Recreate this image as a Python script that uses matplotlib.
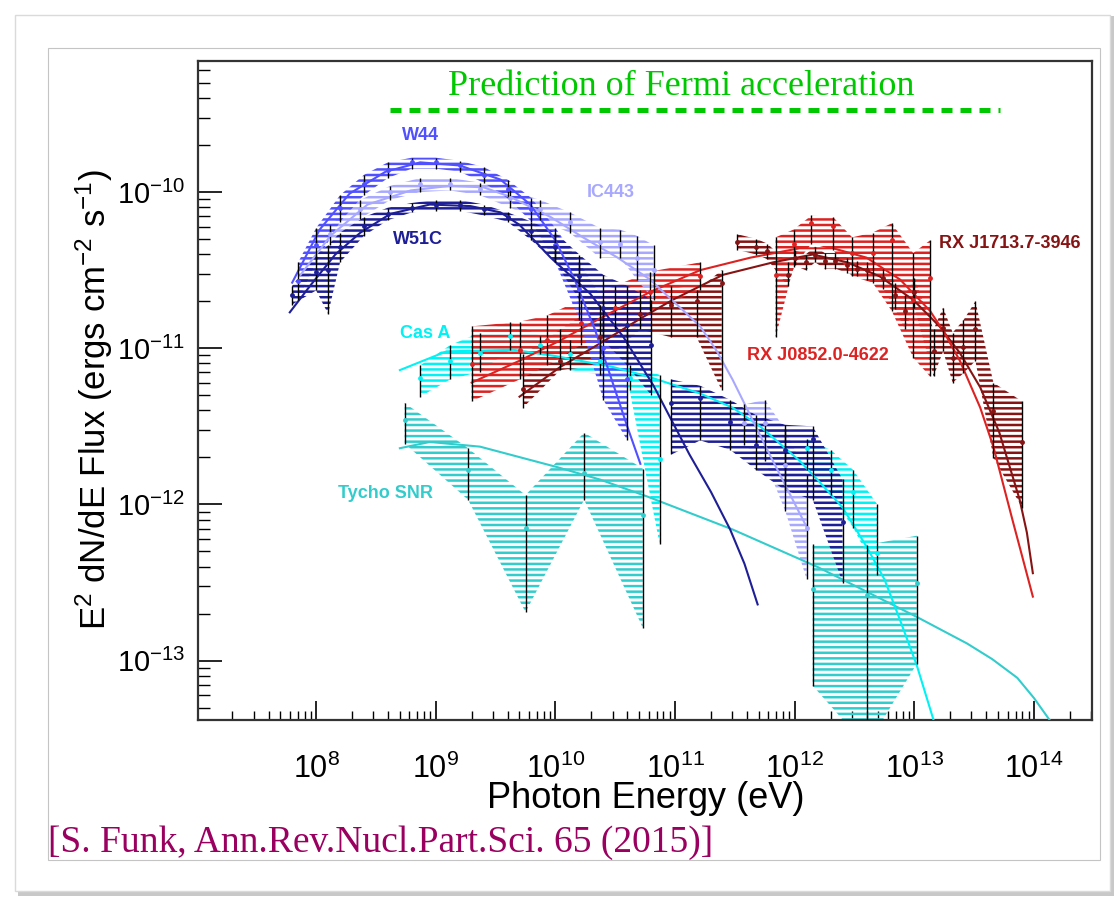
#Espectros gamma de remanentes de supernova (Funk 2015)
#Valores: log10 de la energia (eV) y log10 del flujo E^2 dN/dE

import numpy as np
import matplotlib
matplotlib.use("Agg")
import matplotlib.pyplot as plt
from matplotlib.patches import Rectangle
from matplotlib.ticker import LogLocator, NullFormatter

plt.rcParams['font.family'] = ['Liberation Sans', 'DejaVu Sans']
plt.rcParams['mathtext.fontset'] = 'custom'
plt.rcParams['mathtext.rm'] = 'Liberation Sans'
plt.rcParams['mathtext.it'] = 'Liberation Sans:italic'
plt.rcParams['mathtext.bf'] = 'Liberation Sans:bold'
plt.rcParams['hatch.linewidth'] = 1.8

# ---- W44 ----
w44_curva_logE = [7.80, 8.03, 8.28, 8.58, 8.87, 9.20, 9.54, 9.79, 10.00, 10.16, 10.33, 10.50, 10.60, 10.71]
w44_curva_logF = [-10.58, -10.24, -10.01, -9.87, -9.81, -9.83, -9.92, -10.08, -10.31, -10.56, -10.88, -11.27, -11.50, -11.74]
w44_logE = [7.85, 8.0, 8.2, 8.4, 8.6, 8.8, 9.0, 9.2, 9.4, 9.6, 9.8, 10.0, 10.2, 10.4, 10.6]
w44_logF = [-10.57, -10.34, -10.10, -9.95, -9.86, -9.81, -9.81, -9.83, -9.89, -9.98, -10.11, -10.34, -10.62, -11.00, -11.20]
w44_logF_max = [-10.45, -10.23, -10.02, -9.89, -9.81, -9.78, -9.78, -9.80, -9.84, -9.92, -10.04, -10.23, -10.45, -10.69, -10.88]
w44_logF_min = [-10.69, -10.45, -10.19, -10.02, -9.91, -9.85, -9.85, -9.87, -9.94, -10.04, -10.19, -10.45, -10.82, -11.33, -11.59]

# ---- IC443 ----
ic443_curva_logE = [7.87, 8.12, 8.43, 8.79, 9.12, 9.40, 9.62, 9.96, 10.23, 10.52, 10.79, 11.21, 11.35, 11.48, 11.79, 11.95, 12.11]
ic443_curva_logF = [-10.53, -10.28, -10.08, -9.99, -9.96, -9.97, -10.03, -10.16, -10.29, -10.42, -10.56, -10.86, -11.02, -11.20, -11.68, -11.92, -12.16]
ic443_logE = [8.12, 8.37, 8.62, 8.87, 9.12, 9.37, 9.62, 9.87, 10.12, 10.37, 10.54, 10.68, 10.82]
ic443_logF = [-10.27, -10.11, -10.00, -9.95, -9.95, -9.98, -10.04, -10.11, -10.19, -10.32, -10.33, -10.42, -10.50]
ic443_logF_max = [-10.21, -10.05, -9.96, -9.91, -9.91, -9.94, -9.99, -10.05, -10.13, -10.23, -10.24, -10.28, -10.34]
ic443_logF_min = [-10.34, -10.17, -10.05, -10.00, -9.99, -10.02, -10.10, -10.18, -10.26, -10.42, -10.42, -10.56, -10.69]
ic443_he_logE = [11.58, 11.75, 11.92, 12.10]
ic443_he_logF = [-11.48, -11.48, -11.75, -12.15]
ic443_he_logF_max = [-11.36, -11.33, -11.52, -11.81]
ic443_he_logF_min = [-11.62, -11.72, -12.04, -12.48]

# ---- W51C ----
w51c_curva_logE = [7.78, 7.95, 8.16, 8.37, 8.62, 8.95, 9.29, 9.54, 9.70, 9.96, 10.29, 10.57, 10.82, 11.12, 11.30, 11.46, 11.58, 11.69]
w51c_curva_logF = [-10.77, -10.60, -10.40, -10.26, -10.14, -10.08, -10.09, -10.13, -10.21, -10.42, -10.65, -10.93, -11.24, -11.68, -11.92, -12.16, -12.38, -12.64]
w51c_logE = [7.8, 8.0, 8.1, 8.2, 8.4, 8.6, 8.8, 9.0, 9.2, 9.4, 9.6, 9.8, 10.0, 10.2, 10.4, 10.6, 10.8]
w51c_logF = [-10.66, -10.51, -10.50, -10.35, -10.22, -10.14, -10.10, -10.08, -10.08, -10.11, -10.16, -10.25, -10.35, -10.54, -10.74, -10.85, -10.98]
w51c_logF_max = [-10.60, -10.40, -10.34, -10.26, -10.16, -10.10, -10.07, -10.05, -10.05, -10.08, -10.13, -10.19, -10.26, -10.40, -10.53, -10.60, -10.69]
w51c_logF_min = [-10.72, -10.63, -10.78, -10.45, -10.28, -10.18, -10.13, -10.12, -10.12, -10.15, -10.19, -10.31, -10.45, -10.69, -10.95, -11.11, -11.30]
w51c_he_logE = [10.97, 11.21, 11.46, 11.68, 11.92, 12.15, 12.40]
w51c_he_logF = [-11.35, -11.32, -11.47, -11.62, -11.65, -11.58, -12.11]
w51c_he_logF_max = [-11.20, -11.24, -11.33, -11.43, -11.49, -11.50, -11.84]
w51c_he_logF_min = [-11.68, -11.59, -11.65, -11.78, -11.91, -11.97, -12.50]

# ---- Cas A ----
casa_curva_logE = [8.70, 9.09, 9.65, 10.00, 10.48, 10.77, 11.21, 11.48, 11.71, 12.04, 12.20, 12.40, 12.60, 12.75, 12.88, 13.02, 13.16]
casa_curva_logF = [-11.14, -11.02, -11.01, -11.05, -11.12, -11.18, -11.29, -11.38, -11.50, -11.72, -11.85, -12.02, -12.27, -12.48, -12.74, -13.03, -13.38]
casa_logE = [8.87, 9.12, 9.37, 9.62, 9.87, 10.12, 10.37, 10.62, 10.87]
casa_logF = [-11.19, -11.08, -11.03, -10.92, -10.98, -11.04, -11.08, -11.19, -11.71]
casa_logF_max = [-11.11, -10.98, -10.90, -10.83, -10.92, -10.95, -10.98, -11.11, -11.17]
casa_logF_min = [-11.31, -11.20, -11.15, -11.01, -11.04, -11.14, -11.17, -11.27, -12.25]
casa_he_logE = [12.10, 12.30, 12.49, 12.69]
casa_he_logF = [-11.64, -11.78, -11.92, -12.31]
casa_he_logF_max = [-11.58, -11.65, -11.78, -12.00]
casa_he_logF_min = [-11.78, -11.94, -12.15, -12.45]

# ---- Tycho SNR ----
tycho_curva_logE = [8.70, 8.95, 9.37, 10.01, 10.37, 10.77, 11.48, 12.19, 13.02, 13.44, 13.65, 13.86, 14.00, 14.13]
tycho_curva_logF = [-11.64, -11.60, -11.63, -11.76, -11.84, -11.95, -12.16, -12.40, -12.72, -12.89, -12.99, -13.11, -13.24, -13.38]
tycho_logE = [8.74, 9.27, 9.75, 10.24, 10.73]
tycho_logF = [-11.46, -11.78, -12.15, -11.80, -12.07]
tycho_logF_max = [-11.35, -11.64, -11.94, -11.54, -11.77]
tycho_logF_min = [-11.61, -11.97, -12.69, -11.97, -12.79]
tycho_he_logE = [12.15, 12.60, 13.02]
tycho_he_logF = [-12.54, -12.58, -12.50]
tycho_he_logF_max = [-12.25, -12.26, -12.20]
tycho_he_logF_min = [-13.16, -13.55, -13.02]

# ---- RX J0852.0-4622 ----
j0852_curva_logE = [9.30, 9.70, 10.04, 10.37, 10.79, 11.21, 11.63, 12.04, 12.32, 12.60, 12.88, 13.13, 13.25, 13.38, 13.55, 13.66, 13.82, 13.90, 13.99]
j0852_curva_logF = [-11.22, -11.08, -10.95, -10.81, -10.64, -10.50, -10.42, -10.36, -10.36, -10.42, -10.56, -10.76, -10.90, -11.08, -11.38, -11.63, -12.10, -12.33, -12.59]
j0852_logE = [9.30, 9.70, 9.93, 10.21, 10.50, 10.79, 11.21]
j0852_logF = [-11.10, -11.01, -10.95, -10.84, -10.74, -10.64, -10.54]
j0852_logF_max = [-10.86, -10.83, -10.79, -10.69, -10.60, -10.51, -10.45]
j0852_logF_min = [-11.34, -11.20, -11.11, -10.98, -10.88, -10.76, -10.63]
j0852_he_logE = [11.84, 11.99, 12.14, 12.32, 12.48, 12.65, 12.81, 12.99, 13.13]
j0852_he_logF = [-10.53, -10.33, -10.20, -10.22, -10.39, -10.39, -10.31, -10.69, -10.55]
j0852_he_logF_max = [-10.29, -10.24, -10.15, -10.16, -10.29, -10.26, -10.20, -10.39, -10.31]
j0852_he_logF_min = [-10.93, -10.48, -10.33, -10.37, -10.54, -10.58, -10.76, -11.06, -11.18]

# ---- RX J1713.7-3946 ----
j1713_curva_logE = [9.70, 10.04, 10.37, 10.71, 10.98, 11.40, 11.82, 12.15, 12.44, 12.71, 12.99, 13.21, 13.30, 13.38, 13.55, 13.71, 13.88, 13.94, 13.99]
j1713_curva_logF = [-11.31, -11.12, -10.97, -10.81, -10.69, -10.53, -10.45, -10.40, -10.45, -10.54, -10.69, -10.86, -10.95, -11.03, -11.25, -11.54, -11.97, -12.18, -12.44]
j1713_logE = [9.73, 10.04, 10.37, 10.71, 10.97, 11.18, 11.39]
j1713_logF = [-11.26, -11.08, -10.93, -10.78, -10.72, -10.70, -10.58]
j1713_logF_max = [-11.04, -10.88, -10.72, -10.63, -10.60, -10.63, -10.50]
j1713_logF_min = [-11.38, -11.14, -11.11, -10.88, -10.93, -10.93, -11.27]
j1713_he_logE = [11.52, 11.68, 11.77, 11.94, 12.00, 12.09, 12.17, 12.25, 12.34, 12.44, 12.52, 12.60,
                 12.74, 12.84, 12.92, 13.00, 13.16, 13.24, 13.32, 13.41, 13.51, 13.66, 13.90]
j1713_he_logF = [-10.32, -10.35, -10.38, -10.53, -10.42, -10.45, -10.40, -10.44, -10.44, -10.47, -10.49, -10.50,
                 -10.55, -10.66, -10.76, -10.64, -11.02, -10.87, -11.06, -10.99, -10.88, -11.40, -11.60]
j1713_he_logF_max = [-10.27, -10.30, -10.33, -10.45, -10.37, -10.40, -10.35, -10.39, -10.39, -10.42, -10.44, -10.45,
                     -10.49, -10.58, -10.66, -10.55, -10.88, -10.74, -10.90, -10.82, -10.70, -11.22, -11.34]
j1713_he_logF_min = [-10.37, -10.40, -10.43, -10.60, -10.47, -10.50, -10.45, -10.49, -10.49, -10.52, -10.54, -10.56,
                     -10.62, -10.75, -10.88, -10.74, -11.18, -11.02, -11.22, -11.16, -11.08, -11.70, -12.02]

# posiciones de las etiquetas (log E, log F)
etiquetas = ['W44', 'IC443', 'W51C', 'Cas A', 'Tycho SNR', 'RX J0852.0-4622', 'RX J1713.7-3946']
etiquetas_logE = [8.87, 10.46, 8.85, 8.91, 8.58, 12.19, 13.80]
etiquetas_logF = [-9.635, -10.006, -10.307, -10.903, -11.927, -11.044, -10.327]

azul = '#5050ff'
lila = '#a8a8ff'
marino = '#1e1e96'
cian = '#00f2f4'
turquesa = '#33cccc'
rojo = '#dd2222'
granate = '#861414'
colores_etiquetas = [azul, lila, marino, cian, turquesa, rojo, granate]


def banda(ax, logE, logF, logF_min, logF_max, color):
    E = np.power(10.0, logE)
    F = np.power(10.0, logF)
    Fmin = np.power(10.0, logF_min)
    Fmax = np.power(10.0, logF_max)
    ax.fill_between(E, Fmin, Fmax, facecolor='none', edgecolor=color,
                    hatch='---', linewidth=0, zorder=2)
    ax.errorbar(E, F, yerr=[F - Fmin, Fmax - F], fmt='o', ms=3.5, mfc=color,
                mec=color, mew=0, ecolor='black', elinewidth=1.0,
                capsize=1.5, capthick=1.0, zorder=4)


def curva(ax, logE, logF, color):
    ax.plot(np.power(10.0, logE), np.power(10.0, logF), color=color, lw=1.5, zorder=3)


fig = plt.figure(figsize=(11.18, 8.98), dpi=100)

# marco tipo diapositiva
fig.patches.append(Rectangle((18 / 1118, 1 - 896 / 898), 1096 / 1118, 880 / 898,
                             transform=fig.transFigure, facecolor='#c8c8c8',
                             edgecolor='none', zorder=-6))
fig.patches.append(Rectangle((15 / 1118, 1 - 891 / 898), 1095 / 1118, 876 / 898,
                             transform=fig.transFigure, facecolor='white',
                             edgecolor='#dadada', lw=1.0, zorder=-5))
fig.patches.append(Rectangle((48 / 1118, 1 - 860 / 898), 1052 / 1118, 812 / 898,
                             transform=fig.transFigure, facecolor='none',
                             edgecolor='#c4c4c4', lw=0.8, zorder=-4))

ax = fig.add_axes([198 / 1118, 1 - 720 / 898, 894 / 1118, 659 / 898])
ax.set_xscale('log')
ax.set_yscale('log')

banda(ax, tycho_logE, tycho_logF, tycho_logF_min, tycho_logF_max, turquesa)
banda(ax, tycho_he_logE, tycho_he_logF, tycho_he_logF_min, tycho_he_logF_max, turquesa)
banda(ax, casa_logE, casa_logF, casa_logF_min, casa_logF_max, cian)
banda(ax, casa_he_logE, casa_he_logF, casa_he_logF_min, casa_he_logF_max, cian)
banda(ax, j1713_logE, j1713_logF, j1713_logF_min, j1713_logF_max, granate)
banda(ax, j1713_he_logE, j1713_he_logF, j1713_he_logF_min, j1713_he_logF_max, granate)
banda(ax, j0852_logE, j0852_logF, j0852_logF_min, j0852_logF_max, rojo)
banda(ax, j0852_he_logE, j0852_he_logF, j0852_he_logF_min, j0852_he_logF_max, rojo)
banda(ax, ic443_logE, ic443_logF, ic443_logF_min, ic443_logF_max, lila)
banda(ax, ic443_he_logE, ic443_he_logF, ic443_he_logF_min, ic443_he_logF_max, lila)
banda(ax, w44_logE, w44_logF, w44_logF_min, w44_logF_max, azul)
banda(ax, w51c_logE, w51c_logF, w51c_logF_min, w51c_logF_max, marino)
banda(ax, w51c_he_logE, w51c_he_logF, w51c_he_logF_min, w51c_he_logF_max, marino)

curva(ax, tycho_curva_logE, tycho_curva_logF, turquesa)
curva(ax, casa_curva_logE, casa_curva_logF, cian)
curva(ax, j1713_curva_logE, j1713_curva_logF, granate)
curva(ax, j0852_curva_logE, j0852_curva_logF, rojo)
curva(ax, ic443_curva_logE, ic443_curva_logF, lila)
curva(ax, w44_curva_logE, w44_curva_logF, azul)
curva(ax, w51c_curva_logE, w51c_curva_logF, marino)

for texto, lE, lF, c in zip(etiquetas, etiquetas_logE, etiquetas_logF, colores_etiquetas):
    ax.text(10 ** lE, 10 ** lF, texto, color=c, fontsize=13, fontweight='bold',
            ha='center', va='center', zorder=6)

ax.set_xlim(1.03e7, 3.05e14)
ax.set_ylim(4.17e-14, 6.9e-10)

ax.xaxis.set_major_locator(LogLocator(base=10, numticks=20))
ax.yaxis.set_major_locator(LogLocator(base=10, numticks=20))
ax.xaxis.set_minor_locator(LogLocator(base=10, subs=np.arange(2, 10), numticks=100))
ax.yaxis.set_minor_locator(LogLocator(base=10, subs=np.arange(2, 10), numticks=100))
ax.xaxis.set_minor_formatter(NullFormatter())
ax.yaxis.set_minor_formatter(NullFormatter())
ax.tick_params(axis='x', which='major', direction='in', length=14, width=1.2,
               labelsize=22, pad=24, top=False)
ax.tick_params(axis='x', which='minor', direction='in', length=6.5, width=1.0, top=False)
ax.tick_params(axis='y', which='major', direction='in', length=17, width=1.2,
               labelsize=21, pad=9, right=False)
ax.tick_params(axis='y', which='minor', direction='in', length=8.5, width=1.0, right=False)
for lado in ax.spines.values():
    lado.set_linewidth(1.6)
    lado.set_color('#333333')

# prediccion de la aceleracion de Fermi
ax.axhline(10 ** -9.475, xmin=0.215, xmax=0.897, color='#00c800', lw=3.6,
           dashes=(2.2, 1.6), zorder=5)
ax.text(0.54, 0.962, 'Prediction of Fermi acceleration', transform=ax.transAxes,
        ha='center', va='center', family='Liberation Serif', fontsize=26,
        color='#00c800', zorder=6)

fig.text(94 / 1118, 1 - 400 / 898, 'E$^{2}$ dN/dE Flux (ergs cm$^{-2}$ s$^{-1}$)',
         rotation=90, ha='center', va='center', fontsize=25)
fig.text(646 / 1118, 1 - 799 / 898, 'Photon Energy (eV)', ha='center', va='center',
         fontsize=26)
fig.text(48 / 1118, 1 - 843 / 898, '[S. Funk, Ann.Rev.Nucl.Part.Sci. 65 (2015)]',
         ha='left', va='center', family='Liberation Serif', fontsize=27, color='#990060')

fig.savefig('out.png', dpi=100)
